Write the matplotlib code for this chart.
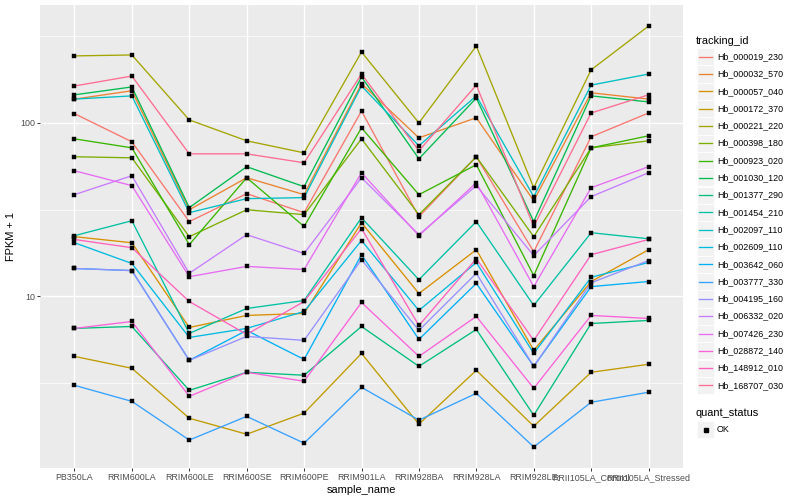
import matplotlib
matplotlib.use("Agg")
import matplotlib.pyplot as plt
import numpy as np
from matplotlib.patches import Rectangle
from matplotlib.lines import Line2D
from matplotlib.ticker import FixedLocator, NullFormatter

plt.rcParams['font.family'] = ['Liberation Sans', 'DejaVu Sans']

samples = ["PB350LA", "RRIM600LA", "RRIM600LE", "RRIM600SE", "RRIM600PE", "RRIM901LA",
           "RRIM928BA", "RRIM928LA", "RRIM928LE", "RRII105LA_Control", "RRII105LA_Stressed"]

tracking_ids = ["Hb_000019_230", "Hb_000032_570", "Hb_000057_040", "Hb_000172_370",
                "Hb_000221_220", "Hb_000398_180", "Hb_000923_020", "Hb_001030_120",
                "Hb_001377_290", "Hb_001454_210", "Hb_002097_110", "Hb_002609_110",
                "Hb_003642_060", "Hb_003777_330", "Hb_004195_160", "Hb_006332_020",
                "Hb_007426_230", "Hb_028872_140", "Hb_148912_010", "Hb_168707_030"]

# FPKM + 1 values, one list per tracking_id (same order as samples)
Hb_000019_230 = [113, 77.8, 27.0, 39.1, 30.4, 117, 28.8, 63.8, 18.1, 83.1, 114]
Hb_000032_570 = [137, 153, 31.6, 48.3, 38.6, 168, 82, 107, 35.6, 149, 137]
Hb_000057_040 = [22.1, 20.4, 6.63, 7.78, 7.99, 26.6, 10.4, 18.6, 4.90, 12.2, 18.6]
Hb_000172_370 = [4.52, 3.86, 1.99, 1.61, 2.13, 4.70, 1.84, 3.76, 1.79, 3.66, 4.07]
Hb_000221_220 = [243, 246, 104, 78.8, 67.2, 256, 100, 277, 42.3, 202, 361]
Hb_000398_180 = [63.8, 62.9, 22.1, 31.6, 29.6, 80.9, 29.6, 63.8, 22.1, 71.8, 78.8]
Hb_000923_020 = [80.9, 71.8, 19.9, 48.3, 25.3, 93.6, 38.6, 57.4, 13.2, 71.8, 84.2]
Hb_001030_120 = [145, 161, 32.5, 55.9, 42.9, 184, 62.1, 139, 27.0, 143, 132]
Hb_001377_290 = [6.55, 6.72, 2.88, 3.66, 3.52, 6.72, 3.96, 6.46, 2.07, 6.99, 7.28]
Hb_001454_210 = [22.4, 27.3, 6.13, 8.53, 9.48, 28.4, 12.5, 27.0, 8.88, 23.3, 21.5]
Hb_002097_110 = [137, 143, 30.4, 36.6, 37.1, 163, 73.8, 143, 37.6, 165, 191]
Hb_002609_110 = [20.4, 15.5, 5.81, 6.55, 8.20, 21.0, 8.31, 15.7, 4.70, 12.9, 15.7]
Hb_003642_060 = [14.5, 14.1, 4.29, 6.38, 4.34, 17.4, 5.66, 11.9, 3.96, 11.4, 12.2]
Hb_003777_330 = [3.08, 2.49, 1.49, 2.04, 1.43, 3.00, 1.94, 2.77, 1.36, 2.46, 2.81]
Hb_004195_160 = [14.5, 14.1, 4.29, 5.89, 5.59, 16.3, 6.38, 13.6, 3.96, 12.0, 16.1]
Hb_006332_020 = [38.6, 49.6, 13.6, 22.7, 17.7, 48.3, 22.7, 43.5, 17.2, 37.6, 51.6]
Hb_007426_230 = [53.0, 43.5, 13.0, 14.9, 14.3, 51.6, 22.4, 45.2, 11.4, 42.3, 55.9]
Hb_028872_140 = [6.55, 7.18, 2.66, 3.66, 3.25, 9.24, 4.52, 7.68, 2.96, 7.78, 7.47]
Hb_148912_010 = [21.3, 19.1, 9.36, 6.05, 9.36, 24.6, 6.81, 16.5, 5.59, 17.4, 21.3]
Hb_168707_030 = [163, 186, 66.3, 66.3, 58.9, 191, 69.0, 165, 25.3, 114, 145]

series = [Hb_000019_230, Hb_000032_570, Hb_000057_040, Hb_000172_370, Hb_000221_220,
          Hb_000398_180, Hb_000923_020, Hb_001030_120, Hb_001377_290, Hb_001454_210,
          Hb_002097_110, Hb_002609_110, Hb_003642_060, Hb_003777_330, Hb_004195_160,
          Hb_006332_020, Hb_007426_230, Hb_028872_140, Hb_148912_010, Hb_168707_030]

quant_status = ["OK"]

colors = ["#F8766D", "#EA8331", "#D89000", "#C09B00", "#A3A500", "#7CAE00", "#39B600",
          "#00BB4E", "#00BF7D", "#00C1A3", "#00BFC4", "#00BAE0", "#00B0F6", "#35A2FF",
          "#9590FF", "#C77CFF", "#E76BF3", "#FA62DB", "#FF62BC", "#FF6C91"]

W, H = 800, 500
fig = plt.figure(figsize=(8, 5), dpi=100)
fig.patch.set_facecolor("white")

L, R, T, B = 40, 683, 5, 468
ax = fig.add_axes([L / W, 1 - B / H, (R - L) / W, (B - T) / H])
ax.set_facecolor("#EBEBEB")
for s in ax.spines.values():
    s.set_visible(False)

x = np.arange(len(samples))
for vals, c in zip(series, colors):
    ax.plot(x, vals, color=c, lw=0.95, solid_capstyle="butt", zorder=3)
for vals in series:
    ax.plot(x, vals, linestyle="none", marker="s", ms=3.0, mfc="black", mec="black",
            mew=0.3, zorder=4)

ax.set_yscale("log")
allv = np.log10(np.concatenate([np.asarray(v, float) for v in series]))
lo, hi = allv.min(), allv.max()
pad = 0.05 * (hi - lo)
ax.set_ylim(10 ** (lo - pad), 10 ** (hi + pad))
ax.set_xlim(-0.6, len(samples) - 1 + 0.6)

ax.yaxis.set_major_locator(FixedLocator([10, 100]))
ax.yaxis.set_minor_locator(FixedLocator([10 ** 0.5, 10 ** 1.5, 10 ** 2.5]))
ax.yaxis.set_minor_formatter(NullFormatter())
ax.set_yticklabels(["10", "100"])
ax.set_xticks(x)
ax.set_xticklabels(samples)

ax.grid(which="major", color="white", lw=1.0, zorder=1)
ax.grid(which="minor", axis="y", color="white", lw=0.5, zorder=1)
ax.set_axisbelow(True)
ax.tick_params(which="major", length=2.0, width=0.7, color="#333333",
               labelsize=6.4, labelcolor="#4D4D4D", pad=1.5)
ax.tick_params(which="minor", length=0)

ax.set_xlabel("sample_name", fontsize=7.9, labelpad=2)
ax.set_ylabel("FPKM + 1", fontsize=7.9, labelpad=3)


def fx(px):
    return px / W


def fy(py):
    return 1 - py / H


# legend: tracking_id
fig.text(fx(696), fy(40.5), "tracking_id", fontsize=7.9, va="center", ha="left")
for i, (name, c) in enumerate(zip(tracking_ids, colors)):
    yc = 56.7 + 17.3 * i
    fig.patches.append(Rectangle((fx(697), fy(yc + 8.6)), 17 / W, 17.2 / H,
                                 transform=fig.transFigure, facecolor="#F2F2F2",
                                 edgecolor="white", lw=0.6))
    fig.lines.append(Line2D([fx(699), fx(712)], [fy(yc), fy(yc)], transform=fig.transFigure,
                            color=c, lw=0.95))
    fig.text(fx(717), fy(yc), name, fontsize=6.4, va="center", ha="left")

# legend: quant_status
fig.text(fx(696), fy(413), "quant_status", fontsize=7.9, va="center", ha="left")
for j, q in enumerate(quant_status):
    yc = 429.5 + 17.3 * j
    fig.patches.append(Rectangle((fx(697), fy(yc + 8.6)), 17 / W, 17.2 / H,
                                 transform=fig.transFigure, facecolor="#F2F2F2",
                                 edgecolor="white", lw=0.6))
    fig.lines.append(Line2D([fx(705.5)], [fy(yc)], transform=fig.transFigure,
                            linestyle="none", marker="s", ms=3.0, color="black"))
    fig.text(fx(717), fy(yc), q, fontsize=6.4, va="center", ha="left")

fig.savefig("out.png", dpi=100)
